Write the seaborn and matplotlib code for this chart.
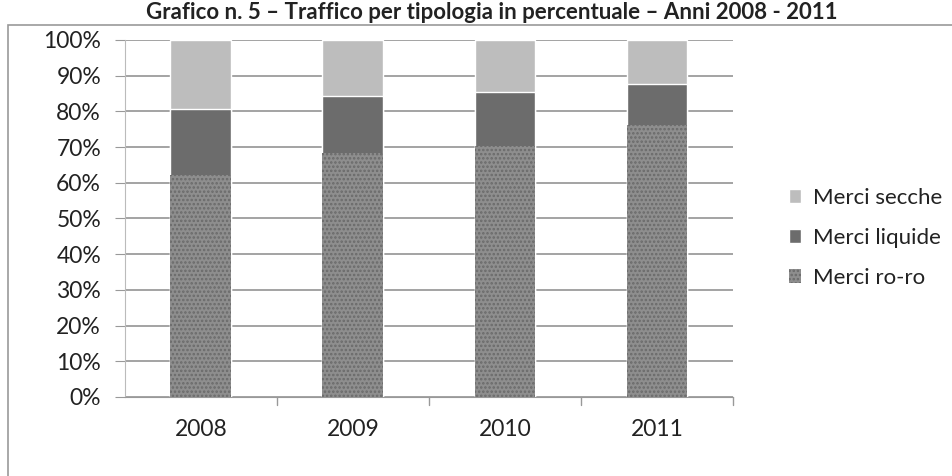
import pandas as pd
import numpy as np

#visalization
import matplotlib.pyplot as plt
import seaborn as sns
from matplotlib.patches import Patch, Rectangle

anni = ["2008", "2009", "2010", "2011"]
merci_roro = [62.2, 68.3, 70.4, 76.3]
merci_liquide = [18.6, 15.9, 15.0, 11.4]
merci_secche = [19.2, 15.8, 14.6, 12.3]

title = "Grafico n. 5 \u2013 Traffico per tipologia in percentuale \u2013 Anni 2008 - 2011"
col_secche = "#bdbdbd"
col_liquide = "#6c6c6c"
col_roro = "#8e8e8e"

df = pd.DataFrame({"anno": anni, "roro": merci_roro,
                   "liquide": merci_liquide, "secche": merci_secche})
df["liv2"] = df["roro"] + df["liquide"]
df["liv3"] = df["liv2"] + df["secche"]

sns.set_style("white")
plt.rcParams['font.family'] = ['Lato', 'DejaVu Sans']
plt.rcParams['hatch.linewidth'] = 1.2

fig = plt.figure(figsize=(9.52, 4.76), dpi=100)
ax = fig.add_axes([0.131, 0.166, 0.639, 0.75])

# stacked bars: draw cumulative totals from the top down
sns.barplot(data=df, x="anno", y="liv3", color=col_secche, width=0.4,
            saturation=1, ax=ax, zorder=2)
sns.barplot(data=df, x="anno", y="liv2", color=col_liquide, width=0.4,
            saturation=1, ax=ax, zorder=2)
sns.barplot(data=df, x="anno", y="roro", color=col_roro, width=0.4,
            saturation=1, ax=ax, zorder=2, hatch="....", edgecolor="#6a6a6a",
            linewidth=0)

ax.set_ylim(0, 100)
ax.set_xlim(-0.5, 3.5)
ax.set_yticks(np.arange(0, 101, 10))
ax.set_yticklabels([f"{v}%" for v in range(0, 101, 10)], fontsize=16.5, color="#222222")
ax.set_xticklabels(anni, fontsize=16.5, color="#222222")
ax.tick_params(axis="x", length=0, pad=16)
ax.tick_params(axis="y", length=7, left=True, color="#999999", pad=10)
ax.grid(axis="y", color="#8a8a8a", linewidth=1.1, zorder=0)
ax.set_axisbelow(True)
for b in np.arange(0.5, 3.6, 1):
    ax.plot([b, b], [0, -2.2], color="#999999", lw=1, clip_on=False)
ax.set_xlabel("")
ax.set_ylabel("")
for s in ["top", "right"]:
    ax.spines[s].set_visible(False)
ax.spines["left"].set_color("#bbbbbb")
ax.spines["bottom"].set_color("#999999")

handles = [Patch(facecolor=col_secche, label="Merci secche"),
           Patch(facecolor=col_liquide, label="Merci liquide"),
           Patch(facecolor=col_roro, hatch="....", edgecolor="#6a6a6a", lw=0,
                 label="Merci ro-ro")]
fig.legend(handles=handles, loc="center left", bbox_to_anchor=(0.808, 0.5),
           frameon=False, fontsize=16, handlelength=0.55, handleheight=0.55,
           handletextpad=0.5, labelspacing=0.9, labelcolor="#222222")

fig.add_artist(Rectangle((0.008, -0.01), 1.0, 0.958, transform=fig.transFigure,
                         fill=False, edgecolor="#999999", lw=1.2))
fig.text(0.517, 0.974, title, ha="center", va="center", fontsize=16,
         fontweight="bold", color="#222222")

plt.savefig("out.png", dpi=100)
